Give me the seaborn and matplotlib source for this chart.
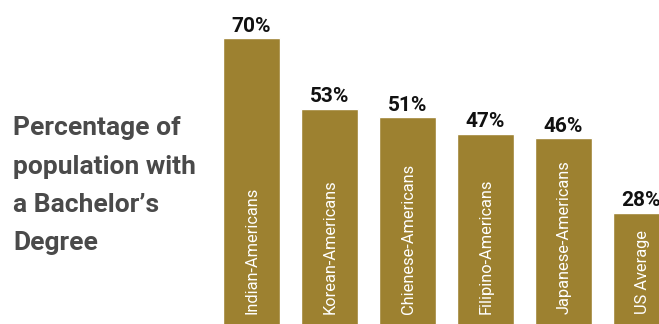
import matplotlib
matplotlib.use("Agg")
import matplotlib.pyplot as plt
import matplotlib.transforms as mtransforms
import pandas as pd
import seaborn as sns

# Share of each population holding a bachelor's degree (%)
groups = ["Indian-Americans", "Korean-Americans", "Chienese-Americans",
          "Filipino-Americans", "Japanese-Americans", "US Average"]
percent = [70, 53, 51, 47, 46, 28]
value_labels = ["70%", "53%", "51%", "47%", "46%", "28%"]
title_lines = ["Percentage of", "population with", "a Bachelor\u2019s", "Degree"]

BAR_COLOR = "#9D8130"
TITLE_COLOR = "#4A4A4A"

sns.set_style("white")
plt.rcParams["font.family"] = ["Roboto", "DejaVu Sans"]

W, H = 659, 324
DPI = 100
fig = plt.figure(figsize=(W / DPI, H / DPI), dpi=DPI)
ax = fig.add_axes([0, 0, 1, 1])

df = pd.DataFrame({"group": groups, "percent": percent})
sns.barplot(data=df, x="group", y="percent", color=BAR_COLOR, saturation=1,
            width=0.73, ax=ax)

# Bars spaced 78 px apart, first bar centred at x = 251.5 px
step = 78.0
first = 251.5
ax.set_xlim(-first / step, (W - first) / step)
# 4.16 px per percentage point, baseline just under the bottom edge
ppu = 4.16
base = 329.2
ax.set_ylim((base - H) / ppu, base / ppu)

ax.set_axis_off()

# Value labels above each bar
for i, (v, lab) in enumerate(zip(percent, value_labels)):
    ax.annotate(lab, xy=(i, v), xytext=(0, 4.5), textcoords="offset points",
                ha="center", va="baseline", fontsize=15, fontweight="bold",
                color="#111111")

# Group names written upward inside the bars
blend = mtransforms.blended_transform_factory(ax.transData, ax.transAxes)
for i, name in enumerate(groups):
    ax.text(i - 0.01, 10 / H, name, transform=blend, rotation=90,
            rotation_mode="anchor", ha="left", va="center_baseline",
            fontsize=11.8, color="white")

# Block title on the left
baselines = [135, 173.5, 212, 250]
for line, yb in zip(title_lines, baselines):
    fig.text(13 / W, 1 - yb / H, line, ha="left", va="baseline",
             fontsize=19, fontweight="bold", color=TITLE_COLOR)

fig.savefig("out.png", dpi=DPI, facecolor="white")
